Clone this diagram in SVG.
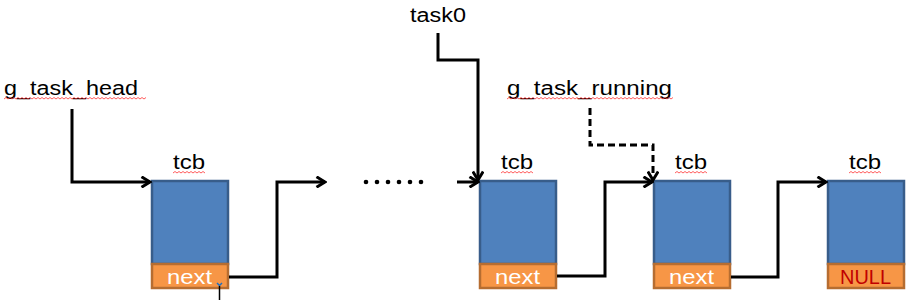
<svg xmlns="http://www.w3.org/2000/svg" width="910" height="300" viewBox="0 0 910 300">
<defs>
<style>
.lbl{font-family:"Liberation Sans",Arial,sans-serif;font-size:20px;fill:#000}
.tcb{font-family:"Liberation Sans",Arial,sans-serif;font-size:21px;fill:#000}
.fld{font-family:"Liberation Sans",Arial,sans-serif;font-size:21px;fill:#fff}
.null{fill:#C00000}
.body{fill:#4F81BD;stroke:#385D8A;stroke-width:2.5}
.ptr{fill:#F79646;stroke:#B66D31;stroke-width:2.5}
.wire{fill:none;stroke:#000;stroke-width:3;stroke-linejoin:miter}
.dash{stroke-dasharray:7 4}
.sq{fill:none;stroke:#FF3333;stroke-width:0.8}
</style>
<marker id="ah" viewBox="0 0 12 12" refX="10.5" refY="6" markerWidth="12" markerHeight="12" markerUnits="userSpaceOnUse" orient="auto">
<polyline points="2,0.8 10.5,6 2,11.2" fill="none" stroke="#000" stroke-width="3"/>
</marker>
</defs>
<rect width="910" height="300" fill="#fff"/>

<g id="g_task_head">
<text class="lbl" x="4" y="95" textLength="134" lengthAdjust="spacingAndGlyphs">g_task_head</text>
<path class="sq" d="M4,99 l2,-1.5 2,1.5 2,-1.5 2,1.5 2,-1.5 2,1.5 2,-1.5 2,1.5 2,-1.5 2,1.5 2,-1.5 2,1.5 2,-1.5 2,1.5 2,-1.5 2,1.5 2,-1.5 2,1.5 2,-1.5 2,1.5 2,-1.5 2,1.5 2,-1.5 2,1.5 2,-1.5 2,1.5 2,-1.5 2,1.5 2,-1.5 2,1.5 2,-1.5 2,1.5 2,-1.5 2,1.5 2,-1.5 2,1.5 2,-1.5 2,1.5 2,-1.5 2,1.5 2,-1.5 2,1.5 2,-1.5 2,1.5 2,-1.5 2,1.5 2,-1.5 2,1.5 2,-1.5 2,1.5 2,-1.5 2,1.5 2,-1.5 2,1.5 2,-1.5 2,1.5 2,-1.5 2,1.5 2,-1.5 2,1.5 2,-1.5 2,1.5 2,-1.5 2,1.5 2,-1.5 2,1.5 2,-1.5 2,1.5 2,-1.5 2,1.5 2,-1.5"/>
</g>

<g id="task0">
<text class="lbl" x="410" y="22" textLength="56" lengthAdjust="spacingAndGlyphs">task0</text>
</g>

<g id="g_task_running">
<text class="lbl" x="507" y="95" textLength="165" lengthAdjust="spacingAndGlyphs">g_task_running</text>
<path class="sq" d="M507,99 l2,-1.5 2,1.5 2,-1.5 2,1.5 2,-1.5 2,1.5 2,-1.5 2,1.5 2,-1.5 2,1.5 2,-1.5 2,1.5 2,-1.5 2,1.5 2,-1.5 2,1.5 2,-1.5 2,1.5 2,-1.5 2,1.5 2,-1.5 2,1.5 2,-1.5 2,1.5 2,-1.5 2,1.5 2,-1.5 2,1.5 2,-1.5 2,1.5 2,-1.5 2,1.5 2,-1.5 2,1.5 2,-1.5 2,1.5 2,-1.5 2,1.5 2,-1.5 2,1.5 2,-1.5 2,1.5 2,-1.5 2,1.5 2,-1.5 2,1.5 2,-1.5 2,1.5 2,-1.5 2,1.5 2,-1.5 2,1.5 2,-1.5 2,1.5 2,-1.5 2,1.5 2,-1.5 2,1.5 2,-1.5 2,1.5 2,-1.5 2,1.5 2,-1.5 2,1.5 2,-1.5 2,1.5 2,-1.5 2,1.5 2,-1.5 2,1.5 2,-1.5 2,1.5 2,-1.5 2,1.5 2,-1.5 2,1.5 2,-1.5 2,1.5 2,-1.5 2,1.5 2,-1.5 2,1.5 2,-1.5"/>
</g>

<g id="tcb1">
<text class="tcb" x="173" y="169" textLength="32" lengthAdjust="spacingAndGlyphs">tcb</text>
<path class="sq" d="M173,173 l2,-1.5 2,1.5 2,-1.5 2,1.5 2,-1.5 2,1.5 2,-1.5 2,1.5 2,-1.5 2,1.5 2,-1.5 2,1.5 2,-1.5 2,1.5 2,-1.5 2,1.5"/>
<rect class="body" x="152" y="181" width="76" height="83"/>
<rect class="ptr" x="152" y="264" width="76" height="24"/>
<text class="fld" x="167" y="284" textLength="45" lengthAdjust="spacingAndGlyphs">next</text>
<path d="M217,283 l2.5,2.5 2.5,-2.5" fill="none" stroke="#1F6FC0" stroke-width="1.5"/>
<line x1="219.5" y1="286" x2="219.5" y2="300" stroke="#000" stroke-width="1.5"/>
</g>

<g id="dots">
<g fill="#000"><circle cx="366" cy="182" r="2.3"/><circle cx="377" cy="182" r="2.3"/><circle cx="388" cy="182" r="2.3"/><circle cx="399" cy="182" r="2.3"/><circle cx="410" cy="182" r="2.3"/><circle cx="421" cy="182" r="2.3"/></g>
</g>

<g id="tcb2">
<text class="tcb" x="501" y="169" textLength="32" lengthAdjust="spacingAndGlyphs">tcb</text>
<path class="sq" d="M501,173 l2,-1.5 2,1.5 2,-1.5 2,1.5 2,-1.5 2,1.5 2,-1.5 2,1.5 2,-1.5 2,1.5 2,-1.5 2,1.5 2,-1.5 2,1.5 2,-1.5 2,1.5"/>
<rect class="body" x="480" y="181" width="76" height="83"/>
<rect class="ptr" x="480" y="264" width="76" height="24"/>
<text class="fld" x="495" y="284" textLength="45" lengthAdjust="spacingAndGlyphs">next</text>
</g>

<g id="tcb3">
<text class="tcb" x="675" y="169" textLength="32" lengthAdjust="spacingAndGlyphs">tcb</text>
<path class="sq" d="M675,173 l2,-1.5 2,1.5 2,-1.5 2,1.5 2,-1.5 2,1.5 2,-1.5 2,1.5 2,-1.5 2,1.5 2,-1.5 2,1.5 2,-1.5 2,1.5 2,-1.5 2,1.5"/>
<rect class="body" x="654" y="181" width="76" height="83"/>
<rect class="ptr" x="654" y="264" width="76" height="24"/>
<text class="fld" x="669" y="284" textLength="45" lengthAdjust="spacingAndGlyphs">next</text>
</g>

<g id="tcb4">
<text class="tcb" x="849" y="169" textLength="32" lengthAdjust="spacingAndGlyphs">tcb</text>
<path class="sq" d="M849,173 l2,-1.5 2,1.5 2,-1.5 2,1.5 2,-1.5 2,1.5 2,-1.5 2,1.5 2,-1.5 2,1.5 2,-1.5 2,1.5 2,-1.5 2,1.5 2,-1.5 2,1.5"/>
<rect class="body" x="828" y="181" width="76" height="83"/>
<rect class="ptr" x="828" y="264" width="76" height="24"/>
<text class="fld null" x="840" y="284" textLength="51" lengthAdjust="spacingAndGlyphs">NULL</text>
</g>

<g id="connectors">
<path class="wire" d="M72,109 V182 H150" marker-end="url(#ah)"/>
<path class="wire" d="M229,277 H277 V182 H325" marker-end="url(#ah)"/>
<path class="wire" d="M457,182 H478" marker-end="url(#ah)"/>
<path class="wire" d="M438,33 V60 H478 V180" marker-end="url(#ah)"/>
<path class="wire dash" d="M590,108 V145 H653 V180" marker-end="url(#ah)"/>
<path class="wire" d="M557,276 H605 V182 H652" marker-end="url(#ah)"/>
<path class="wire" d="M731,277 H778 V182 H826" marker-end="url(#ah)"/>
</g>
</svg>
